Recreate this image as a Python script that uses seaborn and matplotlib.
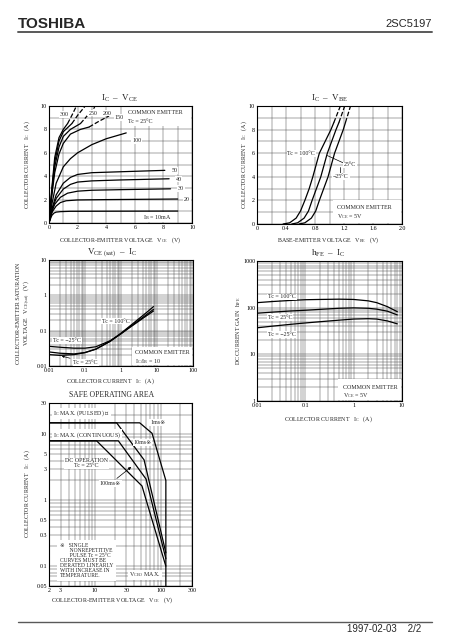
import matplotlib
matplotlib.use("Agg")
import matplotlib.pyplot as plt
import matplotlib.ticker as mticker
from matplotlib.lines import Line2D
from matplotlib.patches import Rectangle
import seaborn as sns

# ---------------- data ----------------
# IC - VCE  (Tc = 25C), curves for each base current IB (mA)
ib_names = ["10", "20", "30", "40", "50", "100"]
vce_low = [
    [0, 0.1, 0.2, 0.35, 0.5, 0.8, 1.5, 9.0],
    [0, 0.1, 0.25, 0.5, 0.8, 1.2, 2, 4, 9],
    [0, 0.15, 0.4, 0.8, 1.3, 2, 3, 5, 8.5],
    [0, 0.2, 0.5, 1, 1.5, 2, 3, 5, 8.4],
    [0, 0.2, 0.5, 1, 1.5, 2, 3, 5, 8.1],
    [0, 0.2, 0.5, 1, 1.5, 2, 3, 4, 5.4],
]
ic_low = [
    [0, 0.35, 0.65, 0.85, 0.93, 0.97, 1.0, 1.02],
    [0, 0.5, 1.0, 1.45, 1.75, 1.9, 1.97, 2.0, 2.05],
    [0, 0.8, 1.6, 2.2, 2.55, 2.72, 2.8, 2.85, 2.92],
    [0, 1.1, 2.1, 2.9, 3.3, 3.5, 3.6, 3.68, 3.78],
    [0, 1.2, 2.4, 3.4, 3.9, 4.15, 4.3, 4.38, 4.5],
    [0, 1.6, 3.4, 4.8, 5.5, 6.0, 6.7, 7.2, 7.7],
]
ib_high = ["150", "200", "250", "300"]
vce_high = [
    [0, 0.2, 0.4, 0.7, 1, 1.5, 2.2, 2.8],
    [0, 0.2, 0.4, 0.7, 1, 1.5, 2.2],
    [0, 0.2, 0.4, 0.7, 1, 1.6],
    [0, 0.2, 0.4, 0.7, 1.0, 1.3],
]
ic_high = [
    [0, 2.4, 4.3, 5.9, 6.8, 7.6, 8.0, 8.2],
    [0, 2.6, 4.8, 6.5, 7.4, 8.0, 8.5],
    [0, 2.8, 5.2, 7.0, 7.8, 8.5],
    [0, 3.0, 5.6, 7.3, 8.0, 8.5],
]
vce_dash = [[2.8, 3.5, 4.2], [2.2, 2.7, 3.2], [1.6, 2.0, 2.5], [1.3, 1.6, 1.9]]
ic_dash = [[8.2, 8.7, 9.15], [8.5, 9.2, 9.9], [8.5, 9.2, 9.95], [8.5, 9.2, 9.95]]

# IC - VBE  (VCE = 5 V)
ic_vbe = [0, 0.1, 0.5, 1.1, 2.0, 3.0, 4.0, 6.0, 7.0, 8.0, 8.6]
vbe_100 = [0.36, 0.45, 0.54, 0.60, 0.66, 0.72, 0.77, 0.86, 0.94, 1.02, 1.06]
vbe_25 = [0.48, 0.56, 0.65, 0.71, 0.76, 0.82, 0.88, 0.97, 1.03, 1.09, 1.13]
vbe_m25 = [0.58, 0.66, 0.75, 0.81, 0.86, 0.92, 0.98, 1.07, 1.13, 1.19, 1.22]
ic_vbe_top = [8.6, 10]
vbe_top = [[1.06, 1.15], [1.13, 1.21], [1.22, 1.29]]

# VCE(sat) - IC  (IC/IB = 10)
ic_sat = [0.01, 0.02, 0.05, 0.1, 0.2, 0.5, 1, 2, 5, 8]
sat_100 = [0.021, 0.02, 0.021, 0.024, 0.03, 0.05, 0.085, 0.15, 0.32, 0.48]
sat_25 = [0.025, 0.023, 0.022, 0.024, 0.03, 0.05, 0.082, 0.14, 0.28, 0.40]
sat_m25 = [0.036, 0.034, 0.032, 0.032, 0.035, 0.052, 0.082, 0.135, 0.26, 0.36]

# hFE - IC  (VCE = 5 V)
ic_h = [0.01, 0.02, 0.05, 0.1, 0.2, 0.5, 1, 2, 3, 5, 8]
hfe_100 = [128, 135, 143, 148, 150, 152, 150, 140, 128, 105, 82]
hfe_25 = [76, 80, 85, 88, 92, 97, 99, 97, 93, 84, 70]
hfe_m25 = [37, 40, 44, 47, 50, 54, 57, 58, 57, 52, 45]

# safe operating area
soa_1ms_v = [2, 48, 74, 120, 120]
soa_1ms_i = [15, 15, 10.4, 2.0, 0.05]
soa_10ms_v = [2, 21.4, 56, 120]
soa_10ms_i = [15, 15, 4.1, 0.16]
soa_100ms_v = [2, 22.7, 60, 120]
soa_100ms_i = [8, 8, 2.1, 0.13]
soa_dc_v = [2, 10.6, 52, 120]
soa_dc_i = [8, 8, 1.65, 0.1]

# ---------------- figure ----------------
sns.set_theme(style="white")
plt.rcParams["font.family"] = ["Liberation Serif", "DejaVu Sans", "Noto Sans CJK JP"]
plt.rcParams["mathtext.fontset"] = "stix"

W, H = 454, 640
fig = plt.figure(figsize=(W / 100, H / 100), dpi=100)


def box(l, r, t, b):
    return [l / W, 1 - b / H, (r - l) / W, (b - t) / H]


def fx(px):
    return px / W


def fy(py):
    return 1 - py / H


def style(ax):
    for s in ax.spines.values():
        s.set_linewidth(0.8)
        s.set_color("black")
    ax.tick_params(which="both", length=0, labelsize=4.3, pad=1.5, colors="black")
    ax.grid(which="both", color="0.3", lw=0.35)
    ax.set_xlabel("")
    ax.set_ylabel("")


def logfmt(ax, xt, yt):
    fmt = mticker.FuncFormatter(lambda v, _: f"{v:g}")
    ax.set_xticks(xt)
    ax.set_yticks(yt)
    ax.xaxis.set_major_formatter(fmt)
    ax.yaxis.set_major_formatter(fmt)
    ax.xaxis.set_minor_formatter(mticker.NullFormatter())
    ax.yaxis.set_minor_formatter(mticker.NullFormatter())


def line(ax, x, y, ls="-"):
    sns.lineplot(x=x, y=y, ax=ax, color="black", lw=0.9, linestyle=ls,
                 estimator=None, sort=False)


TS = 4.3
wbox = dict(facecolor="white", edgecolor="none", pad=0.6)

# header / footer
fig.text(fx(18), fy(24), "TOSHIBA", family="Liberation Sans", weight="bold",
         fontsize=11, va="center", ha="left")
fig.text(fx(432), fy(24), "2SC5197", family="Liberation Sans", fontsize=8,
         va="center", ha="right")
fig.add_artist(Line2D([fx(18), fx(432)], [fy(32), fy(32)], color="0.35", lw=1.4))
fig.add_artist(Line2D([fx(18), fx(432)], [fy(622), fy(622)], color="0.35", lw=1.0))
fig.text(fx(421), fy(629), "1997-02-03    2/2", family="Liberation Sans",
         fontsize=7, va="center", ha="right")

# ---- IC - VCE ----
ax1 = fig.add_axes(box(49, 192, 106, 223))
for v, i in zip(vce_low, ic_low):
    line(ax1, v, i)
for v, i in zip(vce_high, ic_high):
    line(ax1, v, i)
for v, i in zip(vce_dash, ic_dash):
    line(ax1, v, i, "--")
ax1.set_xlim(0, 10)
ax1.set_ylim(0, 10)
ax1.set_xticks(range(0, 11, 2))
ax1.set_yticks(range(0, 11, 2))
ax1.xaxis.set_minor_locator(mticker.MultipleLocator(1))
ax1.yaxis.set_minor_locator(mticker.MultipleLocator(1))
style(ax1)
ax1.add_patch(Rectangle((5.2, 8.25), 4.75, 1.7, facecolor="white", edgecolor="none", zorder=2))
ax1.text(5.5, 9.45, "COMMON EMITTER", fontsize=TS, va="center", zorder=3)
ax1.text(5.5, 8.65, "Tc = 25°C", fontsize=TS, va="center", zorder=3)
for lab, x, y in zip(["300", "250", "200", "150", "100", "50", "40", "30", "20"],
                     [0.75, 2.75, 3.75, 4.6, 5.8, 8.55, 8.85, 9.0, 9.45],
                     [9.25, 9.4, 9.4, 9.0, 7.05, 4.5, 3.75, 2.95, 2.05]):
    ax1.text(x, y, lab, fontsize=TS, va="center", bbox=wbox, zorder=3)
ax1.text(6.6, 0.5, "$\\mathregular{I_B}$ = 10mA", fontsize=TS, va="center", bbox=wbox, zorder=3)
fig.text(fx(120), fy(98), "$\\mathregular{I_C}$  –  $\\mathregular{V_{CE}}$",
         fontsize=6.5, ha="center", va="center")
fig.text(fx(120), fy(240), "COLLECTOR-EMITTER VOLTAGE   $\\mathregular{V_{CE}}$   (V)",
         fontsize=TS, ha="center", va="center")
fig.text(fx(27), fy(165), "COLLECTOR CURRENT   $\\mathregular{I_C}$   (A)",
         fontsize=TS, ha="center", va="center", rotation=90)

# ---- IC - VBE ----
ax2 = fig.add_axes(box(257, 402, 106, 224))
for v in [vbe_100, vbe_25, vbe_m25]:
    line(ax2, v, ic_vbe)
for v in vbe_top:
    line(ax2, v, ic_vbe_top, "--")
ax2.set_xlim(0, 2.0)
ax2.set_ylim(0, 10)
ax2.set_xticks([0, 0.4, 0.8, 1.2, 1.6, 2.0])
ax2.xaxis.set_major_formatter(mticker.FuncFormatter(lambda v, _: "0" if v == 0 else f"{v:.1f}"))
ax2.set_yticks(range(0, 11, 2))
ax2.xaxis.set_minor_locator(mticker.MultipleLocator(0.2))
ax2.yaxis.set_minor_locator(mticker.MultipleLocator(1))
style(ax2)
ax2.text(0.42, 6.0, "Tc = 100°C", fontsize=TS, va="center", bbox=wbox, zorder=3)
ax2.plot([0.97, 1.2], [5.8, 5.15], color="black", lw=0.5, zorder=3)
ax2.text(1.2, 5.0, "25°C", fontsize=TS, va="center", bbox=wbox, zorder=3)
ax2.plot([1.15, 1.15], [4.35, 4.8], color="black", lw=0.5, zorder=3)
ax2.text(1.05, 4.0, "−25°C", fontsize=TS, va="center", bbox=wbox, zorder=3)
ax2.add_patch(Rectangle((1.05, 0.1), 0.93, 1.9, facecolor="white", edgecolor="none", zorder=2))
ax2.text(1.1, 1.4, "COMMON EMITTER", fontsize=TS, va="center", zorder=3)
ax2.text(1.1, 0.6, "$\\mathregular{V_{CE}}$ = 5V", fontsize=TS, va="center", zorder=3)
fig.text(fx(330), fy(98), "$\\mathregular{I_C}$  –  $\\mathregular{V_{BE}}$",
         fontsize=6.5, ha="center", va="center")
fig.text(fx(328), fy(240), "BASE-EMITTER VOLTAGE   $\\mathregular{V_{BE}}$   (V)",
         fontsize=TS, ha="center", va="center")
fig.text(fx(244), fy(165), "COLLECTOR CURRENT   $\\mathregular{I_C}$   (A)",
         fontsize=TS, ha="center", va="center", rotation=90)

# ---- VCE(sat) - IC ----
ax3 = fig.add_axes(box(49, 193, 260, 366))
for s in [sat_100, sat_25, sat_m25]:
    line(ax3, ic_sat, s)
ax3.set_xscale("log")
ax3.set_yscale("log")
ax3.set_xlim(0.01, 100)
ax3.set_ylim(0.01, 10)
logfmt(ax3, [0.01, 0.1, 1, 10, 100], [0.01, 0.1, 1, 10])
style(ax3)
ax3.text(0.028, 0.243, "Tc = −25°C", transform=ax3.transAxes, fontsize=TS,
         va="center", bbox=wbox, zorder=3)
ax3.text(0.365, 0.423, "Tc = 100°C", transform=ax3.transAxes, fontsize=TS,
         va="center", bbox=wbox, zorder=3)
ax3.annotate("Tc = 25°C", xy=(0.07, 0.1), xycoords="axes fraction",
             xytext=(0.17, 0.035), textcoords="axes fraction", fontsize=TS, va="center",
             bbox=wbox, zorder=3,
             arrowprops=dict(arrowstyle="-|>", color="black", lw=0.5, mutation_scale=3))
ax3.add_patch(Rectangle((0.575, 0.007), 0.418, 0.173, transform=ax3.transAxes,
                        facecolor="white", edgecolor="none", zorder=2))
ax3.text(0.6, 0.123, "COMMON EMITTER", transform=ax3.transAxes, fontsize=TS,
         va="center", zorder=3)
ax3.text(0.6, 0.04, "$\\mathregular{I_C / I_B}$ = 10", transform=ax3.transAxes,
         fontsize=TS, va="center", zorder=3)
fig.text(fx(112), fy(253), "$\\mathregular{V_{CE\\ (sat)}}$  –  $\\mathregular{I_C}$",
         fontsize=6.5, ha="center", va="center")
fig.text(fx(110), fy(381), "COLLECTOR CURRENT   $\\mathregular{I_C}$   (A)",
         fontsize=TS, ha="center", va="center")
fig.text(fx(24), fy(313),
         "COLLECTOR-EMITTER SATURATION\nVOLTAGE   $\\mathregular{V_{CE\\ (sat)}}$   (V)",
         fontsize=TS, ha="center", va="center", rotation=90, linespacing=1.1)

# ---- hFE - IC ----
ax4 = fig.add_axes(box(257, 402, 261, 401))
for h in [hfe_100, hfe_25, hfe_m25]:
    line(ax4, ic_h, h)
ax4.set_xscale("log")
ax4.set_yscale("log")
ax4.set_xlim(0.01, 10)
ax4.set_ylim(1, 1000)
logfmt(ax4, [0.01, 0.1, 1, 10], [1, 10, 100, 1000])
style(ax4)
ax4.tick_params(axis="y", pad=1)
for lab, y in zip(["Tc = 100°C", "Tc = 25°C", "Tc = −25°C"], [0.743, 0.597, 0.475]):
    ax4.text(0.076, y, lab, transform=ax4.transAxes, fontsize=TS, va="center",
             bbox=wbox, zorder=3)
ax4.add_patch(Rectangle((0.56, 0.01), 0.43, 0.15, transform=ax4.transAxes,
                        facecolor="white", edgecolor="none", zorder=2))
ax4.text(0.594, 0.098, "COMMON EMITTER", transform=ax4.transAxes, fontsize=TS,
         va="center", zorder=3)
ax4.text(0.594, 0.04, "$\\mathregular{V_{CE}}$ = 5V", transform=ax4.transAxes,
         fontsize=TS, va="center", zorder=3)
fig.text(fx(328), fy(253), "$\\mathregular{h_{FE}}$  –  $\\mathregular{I_C}$",
         fontsize=6.5, ha="center", va="center")
fig.text(fx(328), fy(419), "COLLECTOR CURRENT   $\\mathregular{I_C}$   (A)",
         fontsize=TS, ha="center", va="center")
fig.text(fx(239), fy(331), "DC CURRENT GAIN   $\\mathregular{h_{FE}}$",
         fontsize=TS, ha="center", va="center", rotation=90)

# ---- safe operating area ----
ax5 = fig.add_axes(box(49, 192, 403, 586))
for v, i in [(soa_1ms_v, soa_1ms_i), (soa_10ms_v, soa_10ms_i),
             (soa_100ms_v, soa_100ms_i), (soa_dc_v, soa_dc_i)]:
    line(ax5, v, i)
ax5.set_xscale("log")
ax5.set_yscale("log")
ax5.set_xlim(2, 300)
ax5.set_ylim(0.05, 30)
logfmt(ax5, [2, 3, 10, 30, 100, 300], [0.05, 0.1, 0.3, 0.5, 1, 3, 5, 10, 30])
style(ax5)
T = ax5.transAxes
ax5.text(0.028, 0.942, "$\\mathregular{I_C}$ MAX. (PULSED) ※", transform=T,
         fontsize=TS, va="center", bbox=wbox, zorder=3)
ax5.text(0.028, 0.827, "$\\mathregular{I_C}$ MAX. (CONTINUOUS)", transform=T,
         fontsize=TS, va="center", bbox=wbox, zorder=3)
ax5.text(0.707, 0.893, "1ms※", transform=T, fontsize=TS, va="center", bbox=wbox, zorder=3)
ax5.text(0.59, 0.784, "10ms※", transform=T, fontsize=TS, va="center", bbox=wbox, zorder=3)
ax5.text(0.263, 0.67, "DC OPERATION\nTc = 25°C", transform=T, fontsize=TS,
         ha="center", va="center", bbox=wbox, zorder=3, linespacing=1.0)
ax5.annotate("100ms※", xy=(0.59, 0.66), xycoords="axes fraction",
             xytext=(0.43, 0.56), textcoords="axes fraction", fontsize=TS,
             ha="center", va="center", bbox=wbox, zorder=3,
             arrowprops=dict(arrowstyle="-|>", color="black", lw=0.5, mutation_scale=4))
ax5.text(0.075, 0.14,
         "※   SINGLE\n       NONREPETITIVE\n       PULSE Tc = 25°C\nCURVES MUST BE\n"
         "DERATED LINEARLY\nWITH INCREASE IN\nTEMPERATURE.",
         transform=T, fontsize=4.0, va="center", ha="left", linespacing=1.0, zorder=3,
         bbox=dict(facecolor="white", edgecolor="none", pad=2))
ax5.text(0.672, 0.06, "$\\mathregular{V_{CEO}}$ MAX.", transform=T, fontsize=TS,
         ha="center", va="center", bbox=wbox, zorder=3)
fig.text(fx(112), fy(395), "SAFE OPERATING AREA", fontsize=5.5, ha="center", va="center")
fig.text(fx(112), fy(600), "COLLECTOR-EMITTER VOLTAGE   $\\mathregular{V_{CE}}$   (V)",
         fontsize=TS, ha="center", va="center")
fig.text(fx(27), fy(494), "COLLECTOR CURRENT   $\\mathregular{I_C}$   (A)",
         fontsize=TS, ha="center", va="center", rotation=90)

fig.savefig("out.png", dpi=100)
